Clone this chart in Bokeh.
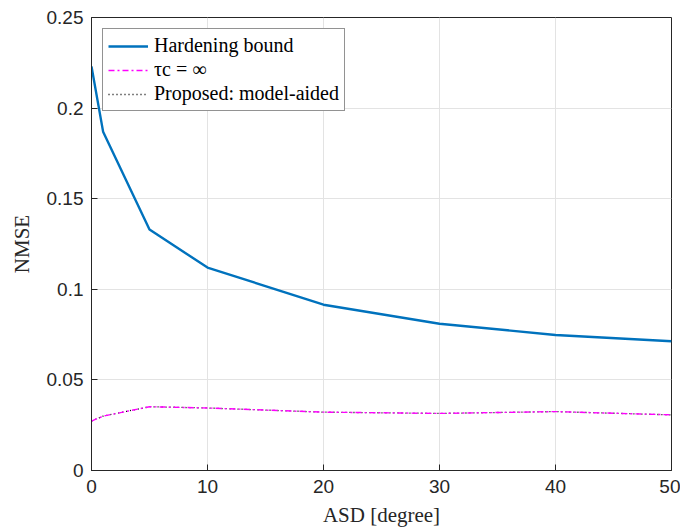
from bokeh.plotting import figure
from bokeh.models import FixedTicker, Range1d, Legend, LegendItem
from bokeh.embed import file_html
from bokeh.resources import INLINE

asd = [0, 1, 5, 10, 20, 30, 40, 50]
hardening = [0.223, 0.187, 0.133, 0.112, 0.0915, 0.081, 0.0748, 0.0713]
tau_inf = [0.0273, 0.030, 0.0352, 0.0345, 0.0322, 0.0315, 0.0325, 0.0307]
proposed = [0.0273, 0.030, 0.0352, 0.0345, 0.0322, 0.0315, 0.0325, 0.0307]

x_ticks = [0, 10, 20, 30, 40, 50]
y_ticks = [0, 0.05, 0.1, 0.15, 0.2, 0.25]
y_labels = {0: "0", 0.05: "0.05", 0.1: "0.1", 0.15: "0.15", 0.2: "0.2", 0.25: "0.25"}

p = figure(frame_width=580, frame_height=453, output_backend="svg", toolbar_location=None,
           x_range=Range1d(0, 50), y_range=Range1d(0, 0.25),
           min_border_left=91, min_border_right=9, min_border_top=17, min_border_bottom=56)
p.background_fill_color = "white"
p.outline_line_color = "#262626"
p.outline_line_width = 1

tick_font = "Liberation Sans"
for ax in [p.xaxis[0], p.yaxis[0]]:
    ax.major_label_text_font = tick_font
    ax.major_label_text_font_size = "19px"
    ax.major_label_text_color = "#262626"
    ax.axis_line_color = "#262626"
    ax.major_tick_line_color = "#262626"
    ax.major_tick_in = 6
    ax.major_tick_out = 0
    ax.minor_tick_line_color = None
    ax.axis_label_text_font = "Liberation Serif"
    ax.axis_label_text_font_style = "normal"
    ax.axis_label_text_font_size = "21px"
    ax.axis_label_text_color = "#262626"

p.xaxis[0].ticker = FixedTicker(ticks=x_ticks)
p.yaxis[0].ticker = FixedTicker(ticks=y_ticks)
p.yaxis[0].major_label_overrides = y_labels
p.xaxis[0].axis_label = "ASD [degree]"
p.yaxis[0].axis_label = "NMSE"
p.xaxis[0].axis_label_standoff = 7
p.yaxis[0].axis_label_standoff = 10
p.xaxis[0].major_label_standoff = 9
p.yaxis[0].major_label_standoff = 8

p.xgrid.ticker = FixedTicker(ticks=x_ticks)
p.ygrid.ticker = FixedTicker(ticks=y_ticks)
for g in [p.xgrid[0], p.ygrid[0]]:
    g.grid_line_color = "#e3e3e3"
    g.grid_line_width = 1

r1 = p.line(asd, hardening, line_color="#0072BD", line_width=2.4)
r3 = p.line(asd, proposed, line_color="black", line_width=1.3, line_dash="1 3")
r2 = p.line(asd, tau_inf, line_color="#FF00FF", line_width=1.4, line_dash="6 3 2 3")

legend = Legend(items=[LegendItem(label="Hardening bound", renderers=[r1]),
                       LegendItem(label="τc = ∞", renderers=[r2]),
                       LegendItem(label="Proposed: model-aided", renderers=[r3])],
                location="top_left")
legend.label_text_font = "Liberation Serif"
legend.label_text_font_size = "20px"
legend.label_text_color = "black"
legend.border_line_color = "#262626"
legend.border_line_width = 1
legend.background_fill_alpha = 1
legend.glyph_width = 40
legend.glyph_height = 18
legend.label_height = 18
legend.spacing = 1
legend.padding = 5
legend.margin = 11
legend.label_standoff = 6
p.add_layout(legend, "center")

open("out.html", "w").write(file_html(p, INLINE))
